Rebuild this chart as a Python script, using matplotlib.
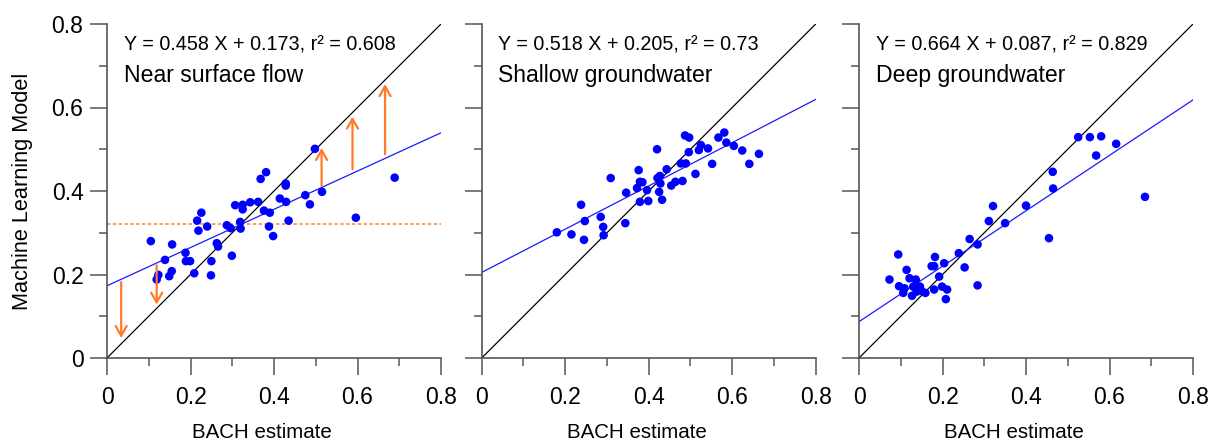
import matplotlib
matplotlib.use('Agg')
import matplotlib.pyplot as plt
import numpy as np

plt.rcParams['font.family'] = ['Liberation Sans', 'DejaVu Sans']

# --- data ---
near_x = [0.105, 0.139, 0.156, 0.123, 0.119, 0.149, 0.155, 0.188, 0.189, 0.199,
          0.209, 0.216, 0.219, 0.226, 0.240, 0.250, 0.249, 0.263, 0.266, 0.287,
          0.296, 0.299, 0.307, 0.319, 0.320, 0.325, 0.325, 0.343, 0.362, 0.368,
          0.381, 0.376, 0.390, 0.388, 0.398, 0.414, 0.428, 0.428, 0.429, 0.435,
          0.475, 0.486, 0.515, 0.596, 0.689, 0.498]
near_y = [0.280, 0.235, 0.272, 0.199, 0.188, 0.196, 0.208, 0.252, 0.232, 0.232,
          0.203, 0.329, 0.305, 0.348, 0.315, 0.232, 0.198, 0.275, 0.267, 0.318,
          0.311, 0.245, 0.366, 0.326, 0.310, 0.367, 0.356, 0.373, 0.374, 0.429,
          0.445, 0.353, 0.348, 0.315, 0.292, 0.382, 0.418, 0.413, 0.374, 0.329,
          0.390, 0.368, 0.398, 0.336, 0.432, 0.501]

shallow_x = [0.180, 0.215, 0.238, 0.247, 0.245, 0.285, 0.291, 0.292, 0.309, 0.344,
             0.346, 0.372, 0.376, 0.379, 0.385, 0.379, 0.396, 0.399, 0.420, 0.421,
             0.427, 0.425, 0.428, 0.432, 0.443, 0.454, 0.464, 0.481, 0.477, 0.489,
             0.487, 0.497, 0.496, 0.512, 0.520, 0.525, 0.542, 0.552, 0.567, 0.581,
             0.586, 0.604, 0.624, 0.641, 0.664]
shallow_y = [0.301, 0.296, 0.367, 0.328, 0.283, 0.338, 0.314, 0.294, 0.431, 0.323,
             0.396, 0.407, 0.450, 0.422, 0.421, 0.374, 0.402, 0.376, 0.500, 0.431,
             0.436, 0.398, 0.418, 0.379, 0.452, 0.413, 0.422, 0.424, 0.466, 0.466,
             0.533, 0.528, 0.493, 0.441, 0.498, 0.510, 0.502, 0.465, 0.528, 0.540,
             0.516, 0.508, 0.497, 0.465, 0.489]

deep_x = [0.073, 0.094, 0.096, 0.106, 0.109, 0.114, 0.121, 0.127, 0.130, 0.136,
          0.138, 0.146, 0.149, 0.159, 0.174, 0.180, 0.180, 0.182, 0.192, 0.199,
          0.204, 0.211, 0.208, 0.239, 0.253, 0.265, 0.284, 0.284, 0.311, 0.321,
          0.350, 0.400, 0.455, 0.464, 0.465, 0.525, 0.553, 0.568, 0.580, 0.616,
          0.685]
deep_y = [0.188, 0.248, 0.172, 0.156, 0.167, 0.211, 0.191, 0.149, 0.171, 0.188,
          0.159, 0.171, 0.161, 0.156, 0.220, 0.220, 0.164, 0.242, 0.195, 0.171,
          0.227, 0.164, 0.141, 0.251, 0.217, 0.285, 0.272, 0.174, 0.328, 0.364,
          0.323, 0.365, 0.287, 0.446, 0.406, 0.529, 0.529, 0.485, 0.531, 0.513,
          0.386]

slopes = [0.458, 0.518, 0.664]
intercepts = [0.173, 0.205, 0.087]
eq_texts = ['Y = 0.458 X + 0.173, r\u00b2 = 0.608',
            'Y = 0.518 X + 0.205, r\u00b2 = 0.73',
            'Y = 0.664 X + 0.087, r\u00b2 = 0.829']
names = ['Near surface flow', 'Shallow groundwater', 'Deep groundwater']

# orange arrows in the first panel: (x, y_start, y_end)
arrow_x = [0.034, 0.119, 0.514, 0.588, 0.666]
arrow_y0 = [0.182, 0.222, 0.412, 0.452, 0.488]
arrow_y1 = [0.048, 0.128, 0.503, 0.578, 0.656]
mean_level = 0.320

ticks = [0, 0.2, 0.4, 0.6, 0.8]
tick_labels = ['0', '0.2', '0.4', '0.6', '0.8']

fig = plt.figure(figsize=(12.11, 4.42), dpi=100)
lefts = [107 / 1211, 481.7 / 1211, 859 / 1211]
axes = [fig.add_axes([l, 84 / 442, 334 / 1211, 334 / 442]) for l in lefts]

data = [(near_x, near_y), (shallow_x, shallow_y), (deep_x, deep_y)]
spine_col = '#555555'
line_x = np.array([0, 0.8])

for i, ax in enumerate(axes):
    xs, ys = data[i]
    ax.plot(line_x, line_x, color='black', lw=0.9, zorder=2)
    ax.plot(line_x, slopes[i] * line_x + intercepts[i], color='#1a1aff', lw=0.9, zorder=2)
    ax.scatter(xs, ys, s=38, color='#0000ff', edgecolors='none', zorder=3)
    ax.set_xlim(0, 0.8)
    ax.set_ylim(0, 0.8)
    ax.spines['top'].set_visible(False)
    ax.spines['right'].set_visible(False)
    for s in ['left', 'bottom']:
        ax.spines[s].set_color(spine_col)
        ax.spines[s].set_linewidth(1.2)
    ax.set_xticks(ticks)
    ax.set_xticklabels(tick_labels)
    ax.set_yticks(ticks)
    ax.set_xticks(np.arange(0.1, 0.8, 0.2), minor=True)
    ax.set_yticks(np.arange(0.1, 0.8, 0.2), minor=True)
    if i == 0:
        ax.set_yticklabels(tick_labels)
        ax.set_ylabel('Machine Learning Model', fontsize=15.7, labelpad=13)
    else:
        ax.set_yticklabels([])
    ax.tick_params(which='major', length=12, width=1.1, color=spine_col,
                   labelsize=16.5, pad=5)
    ax.tick_params(which='minor', length=6, width=1.1, color=spine_col)
    ax.tick_params(axis='x', which='major', pad=8)
    ax.set_xlabel('BACH estimate', fontsize=14.8)
    ax.xaxis.set_label_coords(0.464, -0.222)
    ax.xaxis.label.set_va('center')
    ax.text(0.04, 0.75, eq_texts[i], fontsize=14.2, va='center', ha='left')
    ax.text(0.04, 0.676, names[i], fontsize=16.6, va='center', ha='left')

ax = axes[0]
ax.axhline(mean_level, color='#ff8a3d', lw=1.2, ls=(0, (2, 1.5)), zorder=1)
for x, y0, y1 in zip(arrow_x, arrow_y0, arrow_y1):
    ax.annotate('', xy=(x, y1), xytext=(x, y0),
                arrowprops=dict(arrowstyle='->,head_length=0.7,head_width=0.4',
                                color='#ff7a29', lw=1.6, shrinkA=0, shrinkB=0),
                zorder=4)

fig.savefig('out.png', dpi=100)
